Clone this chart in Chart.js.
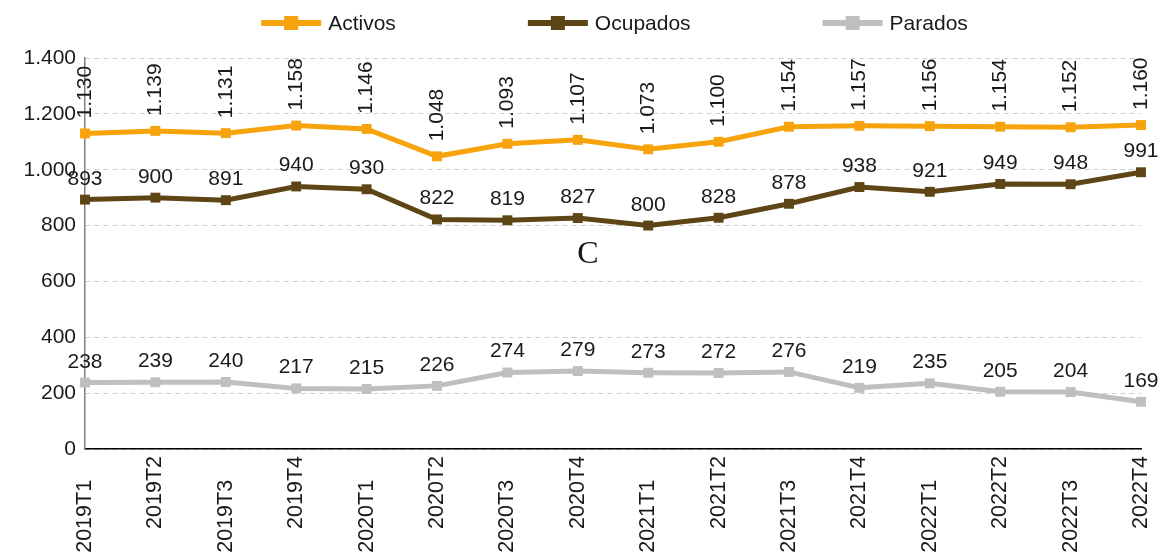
<!DOCTYPE html>
<html lang="es">
<head>
<meta charset="UTF-8">
<title>Activos, ocupados y parados</title>
<script src="https://cdn.jsdelivr.net/npm/chart.js"></script>
<style>
    html, body { margin: 0; padding: 0; background: #fff; }
    #wrap { width: 1161px; height: 558px; }
</style>
</head>
<body>
<div id="wrap"><canvas id="chart"></canvas></div>
<script>
    const quarters = ['2019T1', '2019T2', '2019T3', '2019T4', '2020T1', '2020T2', '2020T3', '2020T4',
        '2021T1', '2021T2', '2021T3', '2021T4', '2022T1', '2022T2', '2022T3', '2022T4'];
    const activos = [1130, 1139, 1131, 1158, 1146, 1048, 1093, 1107, 1073, 1100, 1154, 1157, 1156, 1154, 1152, 1160];
    const ocupados = [893, 900, 891, 940, 930, 822, 819, 827, 800, 828, 878, 938, 921, 949, 948, 991];
    const parados = [238, 239, 240, 217, 215, 226, 274, 279, 273, 272, 276, 219, 235, 205, 204, 169];
    const yMax = 1400;
    const yStep = 200;

    const textColor = '#1a1a1a';
    const fontFamily = '"Liberation Sans", Arial, sans-serif';

    // 1130 -> "1.130"
    function fmt(v) {
        return String(v).replace(/\B(?=(\d{3})+(?!\d))/g, '.');
    }

    Chart.defaults.font.family = fontFamily;
    Chart.defaults.font.size = 21;
    Chart.defaults.color = textColor;

    // value labels above the points (Activos rotated)
    const valueLabels = {
        id: 'valueLabels',
        afterDatasetsDraw(chart) {
            const ctx = chart.ctx;
            chart.data.datasets.forEach((ds, i) => {
                const meta = chart.getDatasetMeta(i);
                meta.data.forEach((pt, j) => {
                    const txt = fmt(ds.data[j]);
                    ctx.save();
                    ctx.font = '21px ' + fontFamily;
                    ctx.fillStyle = textColor;
                    if (ds.rotated) {
                        ctx.translate(pt.x, pt.y - 15);
                        ctx.rotate(-Math.PI / 2);
                        ctx.textAlign = 'left';
                        ctx.textBaseline = 'middle';
                        ctx.fillText(txt, 0, 0);
                    } else {
                        ctx.textAlign = 'center';
                        ctx.textBaseline = 'alphabetic';
                        ctx.fillText(txt, pt.x, pt.y - 15);
                    }
                    ctx.restore();
                });
            });
        }
    };

    // legend: line with a square marker, items spaced evenly
    const topLegend = {
        id: 'topLegend',
        afterDraw(chart) {
            const ctx = chart.ctx;
            ctx.save();
            ctx.font = '21px ' + fontFamily;
            const items = chart.data.datasets.map(ds => ({
                label: ds.label,
                color: ds.borderColor,
                w: 60 + 7 + ctx.measureText(ds.label).width
            }));
            const gap = 132;
            const total = items.reduce((s, it) => s + it.w, 0) + gap * (items.length - 1);
            let x = chart.width / 2 + 34 - total / 2;
            const y = 23;
            items.forEach(it => {
                ctx.fillStyle = it.color;
                ctx.fillRect(x, y - 3, 60, 6);
                ctx.fillRect(x + 23, y - 7, 14, 14);
                ctx.fillStyle = textColor;
                ctx.textAlign = 'left';
                ctx.textBaseline = 'middle';
                ctx.fillText(it.label, x + 67, y + 1);
                x += it.w + gap;
            });
            ctx.restore();
        }
    };

    // stray "C" mark in the plot
    const strayMark = {
        id: 'strayMark',
        afterDraw(chart) {
            const ctx = chart.ctx;
            const xs = chart.scales.x, ys = chart.scales.y;
            ctx.save();
            ctx.font = '32px "Liberation Serif", serif';
            ctx.fillStyle = textColor;
            ctx.textAlign = 'center';
            ctx.textBaseline = 'alphabetic';
            ctx.fillText('C', xs.getPixelForValue(7) + 10, ys.getPixelForValue(666));
            ctx.restore();
        }
    };

    function line(label, data, color, rotated) {
        return {
            label: label,
            data: data,
            rotated: rotated,
            borderColor: color,
            backgroundColor: color,
            borderWidth: 5,
            pointStyle: 'rect',
            pointRadius: 7,
            pointBorderWidth: 0,
            pointBackgroundColor: color,
            tension: 0
        };
    }

    new Chart(document.getElementById('chart'), {
        type: 'line',
        data: {
            labels: quarters,
            datasets: [
                line('Activos', activos, '#f7a30c', true),
                line('Ocupados', ocupados, '#5e4515', false),
                line('Parados', parados, '#bfbfbf', false)
            ]
        },
        options: {
            responsive: true,
            maintainAspectRatio: false,
            animation: false,
            layout: { padding: { top: 58, right: 20, left: 0, bottom: 0 } },
            plugins: {
                legend: { display: false },
                tooltip: { enabled: false }
            },
            scales: {
                x: {
                    offset: false,
                    grid: { display: false, drawTicks: false },
                    border: { display: true, color: '#000', width: 1.5 },
                    ticks: {
                        autoSkip: false,
                        minRotation: 90,
                        maxRotation: 90,
                        padding: 7,
                        font: { size: 21.5 },
                        // every other label sits lower
                        callback: function (value, index) {
                            const q = quarters[index];
                            return index % 2 === 0 ? q + '    ' : q;
                        }
                    },
                    afterFit: function (scale) {
                        scale.height = 109;
                        scale.paddingLeft = 0;
                        scale.paddingRight = 0;
                    }
                },
                y: {
                    min: 0,
                    max: yMax,
                    grid: { color: '#cfcfcf', lineWidth: 1, drawTicks: false },
                    border: { display: true, color: '#808080', width: 1.5, dash: [5, 4] },
                    ticks: {
                        stepSize: yStep,
                        padding: 9,
                        font: { size: 21 },
                        callback: function (value) { return fmt(value); }
                    },
                    afterFit: function (scale) {
                        scale.width = 85;
                        scale.paddingTop = 0;
                        scale.paddingBottom = 0;
                    }
                }
            }
        },
        plugins: [valueLabels, topLegend, strayMark]
    });
</script>
</body>
</html>
